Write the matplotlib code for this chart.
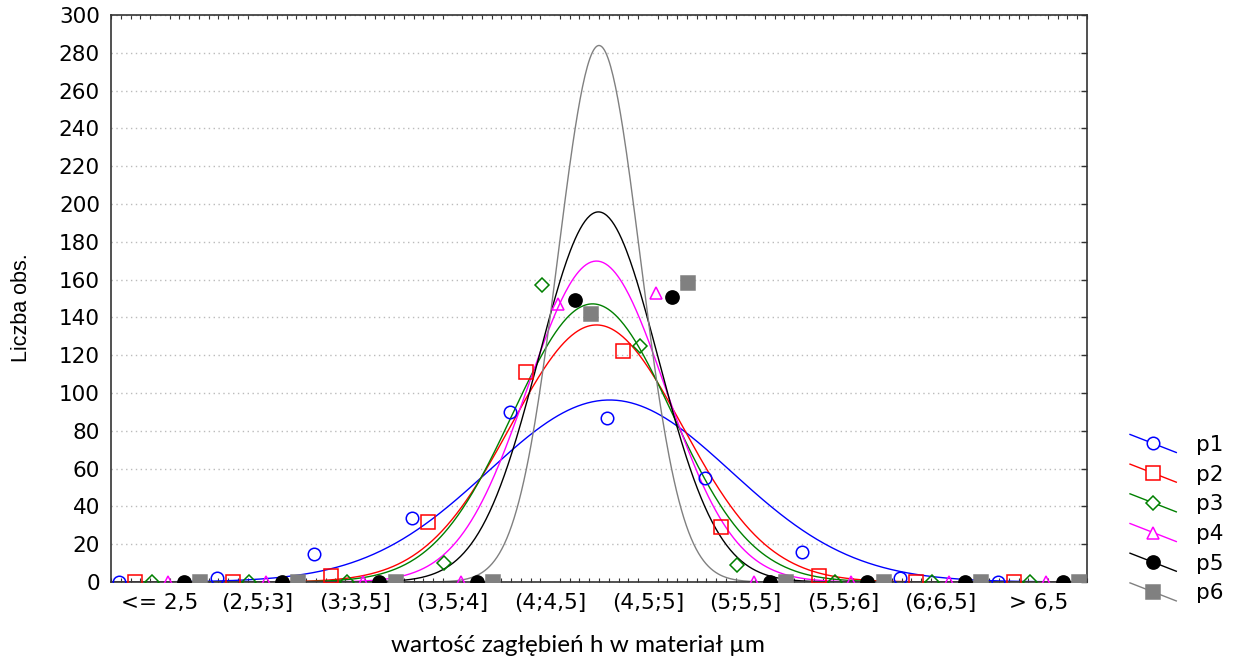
import numpy as np
import matplotlib
matplotlib.use("Agg")
import matplotlib.pyplot as plt
from matplotlib.lines import Line2D
from matplotlib.legend_handler import HandlerLine2D
from matplotlib import font_manager as fm

# ---------------- data ----------------
categories = ["<= 2,5", "(2,5;3]", "(3;3,5]", "(3,5;4]", "(4;4,5]",
              "(4,5;5]", "(5;5,5]", "(5,5;6]", "(6;6,5]", "> 6,5"]
series_names = ["p1", "p2", "p3", "p4", "p5", "p6"]
p1 = [0, 2, 15, 34, 90, 87, 55, 16, 2, 0]
p2 = [0, 0, 3, 32, 111, 122, 29, 3, 0, 0]
p3 = [0, 0, 0, 10, 157, 125, 9, 0, 0, 0]
p4 = [0, 0, 0, 0, 147, 153, 0, 0, 0, 0]
p5 = [0, 0, 0, 0, 149, 151, 0, 0, 0, 0]
p6 = [0, 0, 0, 0, 142, 158, 0, 0, 0, 0]
# fitted normal distributions (mean, sd) in µm
fit_mean = [4.554, 4.487, 4.467, 4.487, 4.497, 4.500]
fit_sd = [0.6235, 0.440, 0.408, 0.3524, 0.3056, 0.2108]
bin_start = 2.0   # left edge of first class
bin_width = 0.5
y_ticks = list(range(0, 301, 20))

counts = [p1, p2, p3, p4, p5, p6]
colors = ["#0000ff", "#ff0000", "#008000", "#ff00ff", "#000000", "#808080"]
markers = ["o", "s", "D", "^", "o", "s"]
msizes = [9, 9.5, 7.5, 9, 9.5, 9.5]
filled = [False, False, False, False, True, True]

names = {f.name for f in fm.fontManager.ttflist}
xlab_family = "Lato" if "Lato" in names else "DejaVu Sans"
TICK_FS = 15.5

fig = plt.figure(figsize=(12.42, 6.61), dpi=100)
ax = fig.add_axes([111 / 1242, 1 - 582 / 661, (1087 - 111) / 1242, (582 - 15) / 661])

n_cat = len(categories)
n_ser = len(counts)
xs_curve = np.linspace(0, n_cat, 800)
vals = bin_start + xs_curve * bin_width

handles = []
for j in range(n_ser):
    c = counts[j]
    N = sum(c)
    dens = N * bin_width / (fit_sd[j] * np.sqrt(2 * np.pi)) * \
        np.exp(-0.5 * ((vals - fit_mean[j]) / fit_sd[j]) ** 2)
    ax.plot(xs_curve, dens, color=colors[j], lw=1.0, zorder=2)
    xm = np.arange(n_cat) + (j + 0.5) / n_ser
    ax.plot(xm, c, linestyle="none", marker=markers[j], ms=msizes[j],
            mec=colors[j], mfc=colors[j] if filled[j] else "none",
            mew=1.1, zorder=3)
    handles.append(Line2D([], [], color=colors[j], lw=1.0, marker=markers[j],
                          ms=msizes[j], mec=colors[j],
                          mfc=colors[j] if filled[j] else "white", mew=1.1))

ax.set_xlim(0, n_cat)
ax.set_ylim(0, 300)
ax.set_yticks(y_ticks)
ax.set_yticklabels([str(v) for v in y_ticks], fontsize=TICK_FS, family="DejaVu Sans")
ax.set_xticks(np.arange(n_cat) + 0.5)
ax.set_xticklabels(categories, fontsize=TICK_FS, family="DejaVu Sans")
ax.tick_params(axis="x", which="major", length=0, pad=8)
ax.set_xticks(np.arange(0, n_cat + 0.001, 0.1), minor=True)
ax.tick_params(axis="x", which="minor", direction="in", length=3, width=0.8,
               top=True, bottom=True, color="#333333")
ax.tick_params(axis="y", which="major", left=False, right=True, direction="in",
               length=4, width=1.0, pad=8, color="#333333")
ax.grid(axis="y", color="#bbbbbb", linestyle=(0, (1, 2.5)), lw=1.0)
for s in ax.spines.values():
    s.set_color("#333333")
    s.set_linewidth(1.2)

fig.text(22 / 1242, 1 - 308 / 661, "Liczba obs.", rotation=90, ha="center",
         va="center", fontsize=15.5, family=["Liberation Sans", "DejaVu Sans"])
fig.text(578 / 1242, 1 - 645 / 661, "wartość zagłębień h w materiał µm",
         ha="center", va="center", fontsize=17.5, family=[xlab_family, "DejaVu Sans"])


class SlantHandler(HandlerLine2D):
    def create_artists(self, legend, orig_handle, xdescent, ydescent,
                       width, height, fontsize, trans):
        arts = super().create_artists(legend, orig_handle, xdescent, ydescent,
                                      width, height, fontsize, trans)
        line = arts[0]
        xd = np.asarray(line.get_xdata(), dtype=float)
        yc = (height - ydescent) / 2
        line.set_ydata(yc - 0.39 * (xd - xd.mean()))
        return arts


fig.legend(handles, series_names, loc="upper left",
           bbox_to_anchor=(1130 / 1242, 1 - 435 / 661),
           frameon=False, prop={"family": "DejaVu Sans", "size": TICK_FS},
           handlelength=2.15, handletextpad=0.9, labelspacing=0.45,
           borderpad=0, borderaxespad=0, numpoints=1,
           handler_map={Line2D: SlantHandler()})

fig.savefig("out.png", dpi=100)
